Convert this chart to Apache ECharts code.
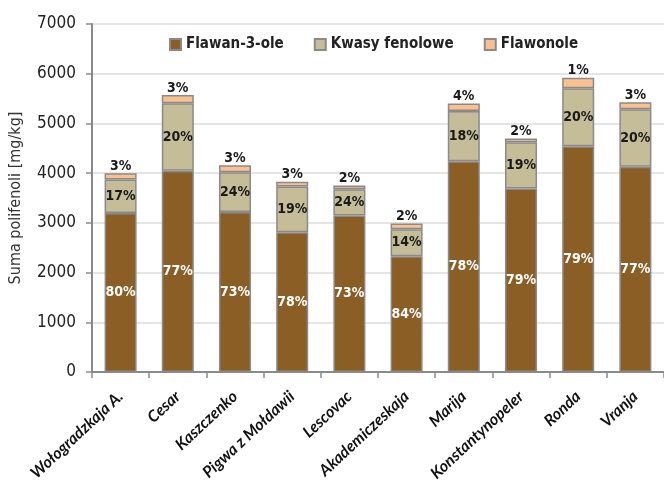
<!DOCTYPE html>
<html><head><meta charset="utf-8">
<script src="https://cdn.jsdelivr.net/npm/echarts@6/dist/echarts.min.js"></script>
<style>html,body{margin:0;padding:0;background:#fff}#c{width:664px;height:490px}</style>
</head><body><div id="c"></div>
<script>
const categories = ["Wołogradzkaja A.","Cesar","Kaszczenko","Pigwa z Mołdawii","Lescovac","Akademiczeskaja","Marija","Konstantynopeler","Ronda","Vranja"];
const flawan3ole = [3200,4050,3220,2810,3150,2330,4240,3690,4540,4130];
const kwasyFenolowe = [670,1356,800,920,525,540,1010,930,1170,1155];
const flawonole = [130,167,140,95,75,115,150,75,210,140];
const flawanPct = ["80%","77%","73%","78%","73%","84%","78%","79%","79%","77%"];
const kwasyPct = ["17%","20%","24%","19%","24%","14%","18%","19%","20%","20%"];
const flawonolePct = ["3%","3%","3%","3%","2%","2%","4%","2%","1%","3%"];
const yTicks = [0,1000,2000,3000,4000,5000,6000,7000];

const NARROW = '"DejaVu Sans Condensed","Liberation Sans Narrow",sans-serif';
const chart = echarts.init(document.getElementById('c'));
function ser(name, data, pct, color, labelPos, labelColor){
  return {
    name, type:'bar', stack:'t', data, barWidth:'56%',
    itemStyle:{color, borderColor:'#8a8a8a', borderWidth:1.5},
    label:{show:true, position:labelPos, color:labelColor, fontFamily:NARROW, fontWeight:'bold', fontSize:14,
      distance:0, formatter:p=>pct[p.dataIndex]},
    emphasis:{disabled:true}
  };
}
chart.setOption({
  animation:false,
  grid:{left:92, right:-4, top:24, bottom:118},
  legend:{top:32, left:164, itemWidth:11, itemHeight:11, itemGap:30, icon:'rect',
    textStyle:{fontFamily:NARROW, fontWeight:'bold', fontSize:15, color:'#222'},
    data:['Flawan-3-ole','Kwasy fenolowe','Flawonole']},
  xAxis:{type:'category', data:categories, boundaryGap:true,
    axisLine:{lineStyle:{color:'#8a8a8a', width:2}},
    axisTick:{show:true, length:6, lineStyle:{color:'#8a8a8a', width:1.5}},
    axisLabel:{rotate:43, interval:0, margin:22, color:'#111', fontFamily:'Lato,"Open Sans",sans-serif', fontStyle:'italic', fontWeight:'bold', fontSize:16}},
  yAxis:{type:'value', min:yTicks[0], max:yTicks[yTicks.length-1], interval:1000,
    name:'Suma polifenoli [mg/kg]', nameLocation:'middle', nameGap:68,
    nameTextStyle:{fontFamily:NARROW, fontSize:16, color:'#333'},
    axisLine:{show:true, lineStyle:{color:'#8a8a8a', width:2}},
    axisTick:{show:true, length:6, lineStyle:{color:'#8a8a8a', width:1.5}},
    axisLabel:{color:'#222', fontFamily:NARROW, fontSize:17, margin:16, formatter:v=>String(v)},
    splitLine:{lineStyle:{color:'#dcdcdc', width:1.5}}},
  series:[
    ser('Flawan-3-ole', flawan3ole, flawanPct, '#8b5e26', 'inside', '#ffffff'),
    ser('Kwasy fenolowe', kwasyFenolowe, kwasyPct, '#c4bd97', 'inside', '#1a1a1a'),
    ser('Flawonole', flawonole, flawonolePct, '#fac08f', 'top', '#1a1a1a')
  ]
});
</script></body></html>
